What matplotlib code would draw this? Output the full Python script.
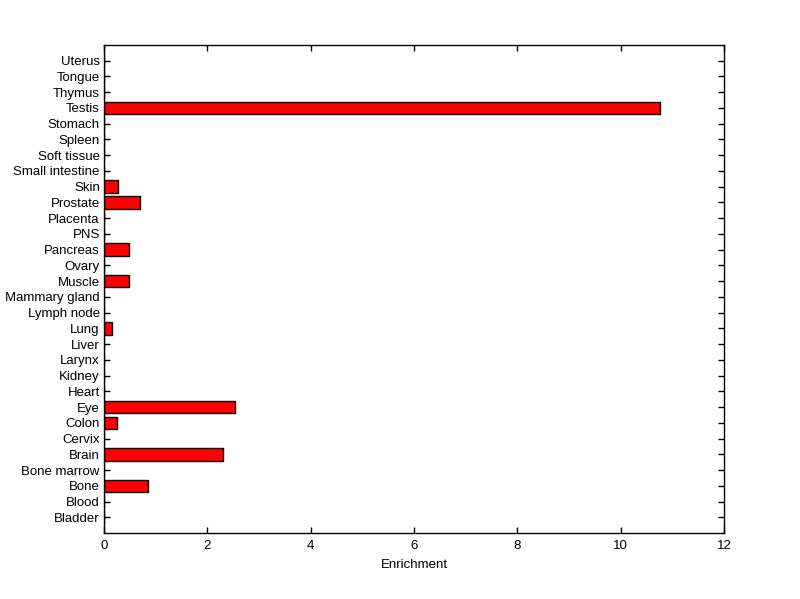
import matplotlib
matplotlib.use('Agg')
import matplotlib.pyplot as plt

tissues = ['Bladder', 'Blood', 'Bone', 'Bone marrow', 'Brain', 'Cervix', 'Colon', 'Eye',
           'Heart', 'Kidney', 'Larynx', 'Liver', 'Lung', 'Lymph node', 'Mammary gland',
           'Muscle', 'Ovary', 'Pancreas', 'PNS', 'Placenta', 'Prostate', 'Skin',
           'Small intestine', 'Soft tissue', 'Spleen', 'Stomach', 'Testis', 'Thymus',
           'Tongue', 'Uterus']
enrichment = [0, 0, 0.86, 0, 2.31, 0, 0.26, 2.53,
              0, 0, 0, 0, 0.16, 0, 0,
              0.48, 0, 0.48, 0, 0, 0.70, 0.28,
              0, 0, 0, 0, 10.77, 0,
              0, 0]
xticks = [0, 2, 4, 6, 8, 10, 12]

plt.rcParams['font.family'] = ['Liberation Sans', 'DejaVu Sans']

fig = plt.figure(figsize=(8, 5.99), dpi=100)
ax = fig.add_axes([0.13, 0.11, 0.775, 0.815])

pos = list(range(1, len(tissues) + 1))
ax.barh(pos, enrichment, height=0.8, color='#ff0000', edgecolor='black',
        linewidth=1, zorder=3)
ax.set_axisbelow(True)

ax.set_ylim(0, 31)
ax.set_xlim(0, 12)
ax.set_yticks(pos)
ax.set_yticklabels(tissues, fontsize=9.5)
ax.set_xticks(xticks)
ax.set_xticklabels([str(t) for t in xticks], fontsize=9.5)
ax.set_xlabel('Enrichment', fontsize=9.5, labelpad=5)
ax.tick_params(direction='in', top=True, right=True, length=4.3, width=1, pad=3)
ax.tick_params(axis='x', pad=5)
for s in ax.spines.values():
    s.set_linewidth(1)
    s.set_zorder(4)

fig.savefig('out.png', dpi=100)
